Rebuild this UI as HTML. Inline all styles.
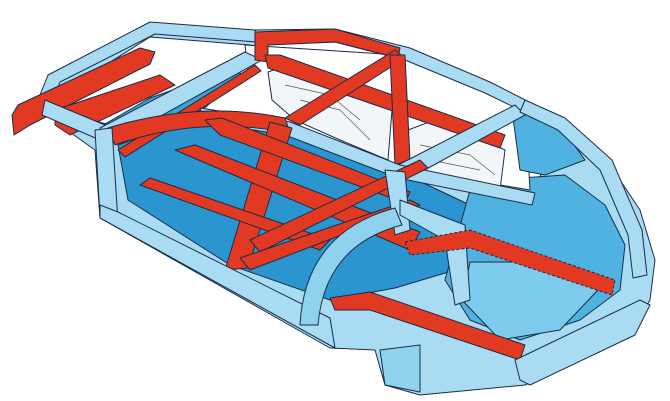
<!DOCTYPE html>
<html><head><meta charset="utf-8"><style>
html,body{margin:0;padding:0;background:#fff;width:670px;height:401px;overflow:hidden}
svg{display:block}
</style></head><body>
<svg width="670" height="401" viewBox="0 0 670 401" xmlns="http://www.w3.org/2000/svg">
<g stroke="#1c2b48" stroke-width="1" stroke-linejoin="round">
<!-- lower body silhouette -->
<path d="M40,100 L60,70 L150,25 L255,32 L260,60 L230,75 L120,120 L100,130 L300,120 L400,165 L530,195 L560,140 L600,150 L640,210 L655,260 L650,300 L630,335 L560,370 L525,385 L420,395 L385,385 L375,350 L330,348 L100,218 L95,150 L60,125 Z" fill="#a9dcf2"/>
<!-- front opening white -->
<path d="M58,95 L150,37 L250,45 L245,56 L110,125 L62,112 Z" fill="#fff"/>
<!-- front engine bay -->
<path d="M98,128 L150,98 L235,68 L262,95 L240,110 L180,112 L118,140 Z" fill="#3aa4d8"/>
<!-- floor -->
<path d="M118,145 L200,115 L300,132 L400,172 L470,205 L462,268 L395,288 L330,300 L230,265 L128,200 Z" fill="#2a95cf"/>
<!-- rear trunk -->
<path d="M470,190 L520,178 L565,175 L605,205 L625,245 L620,290 L580,320 L520,340 L470,320 L445,280 Z" fill="#4fb2e0"/>
<path d="M470,262 L540,262 L598,290 L560,330 L500,340 L462,300 Z" fill="#7ccbec"/>
<!-- greenhouse white -->
<path d="M245,45 L400,55 L525,108 L530,190 L400,168 L300,130 L200,112 L248,70 Z" fill="#fff"/>
<!-- far inner panels -->
<path d="M268,72 L295,62 L392,110 L388,160 L340,140 L295,120 L272,100 Z" fill="#f3f6f8"/>
<path d="M408,130 L440,118 L505,150 L500,190 L440,178 L410,168 Z" fill="#f3f6f8"/>
<g fill="none" stroke="#555" stroke-width="0.7">
<path d="M285,85 L330,95 L360,120 M300,100 L340,110 L370,140 M420,145 L470,155 L495,175 M430,160 L480,170"/>
</g>
<!-- rear window: trunk glimpse -->
<path d="M512,110 L560,125 L585,160 L545,175 L520,170 Z" fill="#4fb2e0"/>
<!-- front loop -->
<path d="M38,100 L48,75 L150,22 L255,30 L256,42 L155,34 L60,82 L52,105 Z" fill="#a9dcf2"/>
<!-- red front bumper beams -->
<path d="M12,115 L18,105 L140,48 L155,52 L150,64 L30,125 L14,135 Z" fill="#e23a22"/>
<path d="M55,110 L160,75 L175,85 L70,135 L55,125 Z" fill="#e23a22"/>
<!-- near fender rail -->
<path d="M45,100 L105,125 L100,140 L42,115 Z" fill="#a9dcf2"/>
<!-- red strut brace -->
<path d="M118,150 L255,65 L261,71 L125,157 Z" fill="#e23a22"/>
<!-- cowl rail light blue -->
<path d="M100,128 L245,52 L262,60 L112,143 Z" fill="#a9dcf2"/>
<!-- far roof rail -->
<path d="M255,30 L335,29 L410,48 L490,82 L535,105 L530,115 L485,93 L405,60 L335,42 L258,45 Z" fill="#a9dcf2"/>
<!-- red windshield header -->
<path d="M255,32 L335,29 L400,48 L398,58 L335,42 L268,45 L268,62 L255,60 Z" fill="#e23a22"/>
<!-- far red belt rail -->
<path d="M265,55 L280,55 L505,135 L500,148 L268,68 Z" fill="#e23a22"/>
<!-- red roof crossbar -->
<path d="M395,50 L405,58 L300,125 L285,118 Z" fill="#e23a22"/>
<!-- far B pillar red -->
<path d="M390,55 L405,55 L410,160 L395,165 Z" fill="#e23a22"/>
<!-- rear roof crossbar light blue -->
<path d="M398,165 L515,105 L525,115 L410,178 Z" fill="#a9dcf2"/>
<!-- near roof rail light blue -->
<path d="M200,108 L290,122 L400,165 L535,193 L532,205 L398,178 L285,135 L205,122 Z" fill="#a9dcf2"/>
<!-- red arch (near door top + B pillar) -->
<path d="M108,128 Q200,100 285,118 L290,133 Q200,115 115,145 Z" fill="#e23a22"/>
<path d="M270,122 L292,128 L248,268 L225,270 Z" fill="#e23a22"/>
<!-- red floor members -->
<path d="M175,150 L195,145 L420,232 L410,250 Z" fill="#e23a22"/>
<path d="M205,120 L222,118 L410,192 L405,203 L220,135 Z" fill="#e23a22"/>
<path d="M140,185 L150,178 L330,240 L320,250 Z" fill="#e23a22"/>
<path d="M250,240 L420,160 L428,168 L260,252 Z" fill="#e23a22"/>
<path d="M240,258 L410,200 L420,205 L250,270 Z" fill="#e23a22"/>
<!-- A pillar base near -->
<path d="M95,130 L112,128 L118,222 L100,217 Z" fill="#a9dcf2"/>
<!-- side sill -->
<path d="M100,205 L118,212 L330,318 L335,348 L100,218 Z" fill="#a9dcf2"/>
<!-- C pillar near -->
<path d="M385,170 L405,172 L410,230 L395,235 Z" fill="#a9dcf2"/>
<path d="M400,200 L465,225 L470,300 L455,305 L445,240 L400,215 Z" fill="#a9dcf2"/>
<!-- rear wheel arch housing -->
<path d="M300,325 Q305,232 395,208 L402,225 Q325,245 318,325 Z" fill="#8fd2ee"/>
<!-- rear loop -->
<path d="M525,100 L565,118 L612,160 L642,230 L647,275 L633,278 L628,235 L600,170 L558,130 L520,112 Z" fill="#a9dcf2"/>
<!-- red rear rails -->
<path d="M405,242 L470,230 L615,280 L612,295 L470,248 L410,255 Z" fill="#e23a22" stroke-dasharray="3,2"/>
<path d="M330,298 L370,292 L525,345 L520,360 L370,310 L335,310 Z" fill="#e23a22"/>
<!-- rear bumper -->
<path d="M515,360 L640,300 L650,305 L635,335 L530,385 L520,380 Z" fill="#a9dcf2"/>
<path d="M380,350 L420,345 L420,392 L385,385 Z" fill="#8fd2ee"/>
</g>
</svg>
</body></html>
